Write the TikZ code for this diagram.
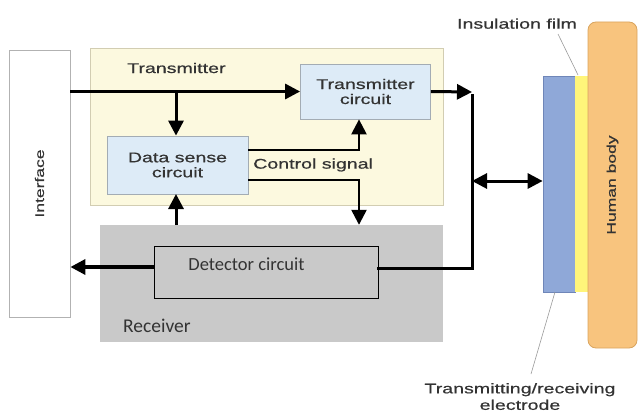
\documentclass[tikz,border=0pt]{standalone}
\usepackage{fontspec}
\usetikzlibrary{arrows.meta}
\newfontfamily\af[FakeStretch=1.4,FakeBold=0.6]{Liberation Sans}
\newfontfamily\cf{Carlito}
\definecolor{txfill}{HTML}{FCF9DF}
\definecolor{txline}{HTML}{D2CDB2}
\definecolor{bluefill}{HTML}{DDEBF7}
\definecolor{blueline}{HTML}{A3ACB4}
\definecolor{rxfill}{HTML}{C9C9C9}
\definecolor{elecfill}{HTML}{8FA8D8}
\definecolor{elecline}{HTML}{6F86B8}
\definecolor{filmfill}{HTML}{FFF57A}
\definecolor{bodyfill}{HTML}{F8C47E}
\definecolor{bodyline}{HTML}{D9A45E}
\definecolor{txt}{HTML}{333333}
\tikzset{
  box/.style={draw, inner sep=0pt, anchor=center},
  circ/.style={box, fill=bluefill, draw=blueline, line width=0.8pt, text=txt, font=\af\fontsize{14}{15}\selectfont, align=center},
  tip/.tip={Triangle[length=15pt,width=15pt]},
  conn/.style={line width=3pt, -tip},
  plain/.style={line width=3pt},
  lead/.style={draw=gray!80, line width=0.6pt},
  lbl/.style={inner sep=0pt, text=txt, font=\af\fontsize{14}{15}\selectfont},
}
\begin{document}
\begin{tikzpicture}[x=1pt,y=-1pt]
\useasboundingbox (0,0) rectangle (639,417);
% containers
\node[box, draw=gray!60, line width=0.8pt, fill=white, minimum width=61pt, minimum height=267pt] (iface) at (39.5,183.5) {};
\node[rotate=90, inner sep=0pt, text=txt, font=\af\fontsize{12.5}{13}\selectfont] (ifacelbl) at (iface.center) {Interface};
\node[box, draw=txline, line width=0.8pt, fill=txfill, minimum width=353pt, minimum height=157pt] (tx) at (266.5,126.5) {};
\node[box, draw=none, fill=rxfill, minimum width=343pt, minimum height=117pt] (rx) at (271.5,283.5) {};
\node[lbl, anchor=west] (txlbl) at (127,68) {Transmitter};
\node[inner sep=0pt, anchor=west, text=txt, font=\cf\fontsize{19.5}{20}\selectfont] (rxlbl) at (123,326) {Receiver};
% circuits
\node[circ, minimum width=130pt, minimum height=55pt] (tc) at (365.5,91.5) {Transmitter\\circuit};
\node[circ, minimum width=141pt, minimum height=58pt] (ds) at (177.5,165) {Data sense\\circuit};
\node[box, line width=0.9pt, minimum width=224pt, minimum height=52pt] (det) at (266,272) {};
\node[inner sep=0pt, text=txt, font=\cf\fontsize{18.5}{19}\selectfont] (detlbl) at (246.5,264) {Detector circuit};
\node[lbl, anchor=west] (ctl) at (253,165) {Control signal};
% body side
\node[box, draw=elecline, line width=0.7pt, fill=elecfill, minimum width=32pt, minimum height=216pt] (elec) at (559,184) {};
\node[box, draw=none, fill=filmfill, minimum width=13pt, minimum height=216pt] (film) at (581.5,184) {};
\node[box, draw=bodyline, line width=0.8pt, fill=bodyfill, rounded corners=8pt, minimum width=49pt, minimum height=326pt] (body) at (612.5,185) {};
\node[rotate=90, inner sep=0pt, text=txt, font=\af\fontsize{12.5}{13}\selectfont] (bodylbl) at (body.center) {Human body};
\node[lbl, anchor=south] (filmlbl) at (517,29) {Insulation film};
\node[lbl, align=center, anchor=north, font=\af\fontsize{14}{16.5}\selectfont] (eleclbl) at (520,383) {Transmitting/receiving\\electrode};
\coordinate (filmtop) at (578,75);
\coordinate (elecbot) at (555,292);
\draw[lead] (558,34) -- (filmtop);
\draw[lead] (531,374) -- (elecbot);
% connectors
\coordinate (J) at (472,92);
\coordinate (J2) at (472,268);
\coordinate (B) at (176,92);
\coordinate (C1) at (359,150);
\coordinate (C2) at (359,180);
\draw[conn] (iface.east |- tc.west) -- (tc.west);
\draw[conn] (B) -- (B |- ds.north);
\draw[conn] (tc.east) -- (J);
\draw[plain, line cap=rect] (472,96) -- (J2) -- (J2 -| det.east);
\draw[line width=3pt, tip-tip] (472,181) -- (elec.west |- 0,181);
\draw[line width=2.4pt, -tip] (ds.east |- C1) -- (C1) -- (C1 |- tc.south);
\draw[line width=2.4pt, -tip] (ds.east |- C2) -- (C2) -- (C2 |- rx.north);
\draw[conn] (176,225) -- (176,194);
\draw[line width=3.4pt, -tip] (det.west |- 0,267) -- (iface.east |- 0,267);
\end{tikzpicture}
\end{document}
